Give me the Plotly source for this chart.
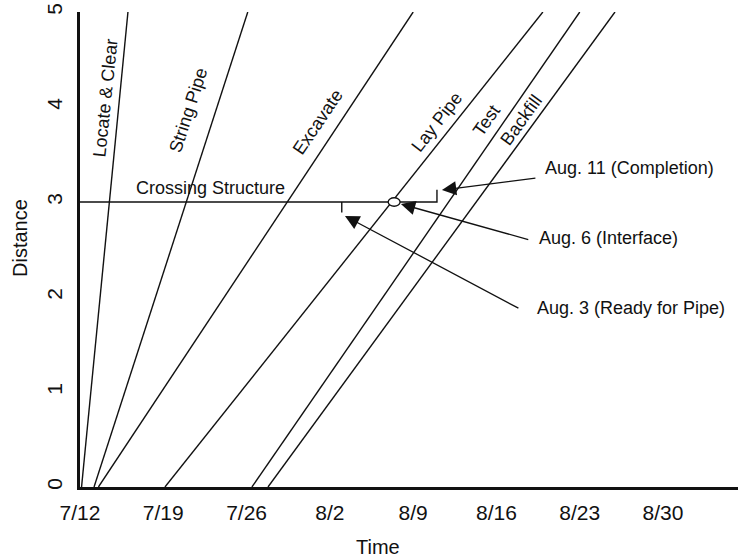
import plotly.graph_objects as go

# Time is measured in days after July 12
tick_days = [0, 7, 14, 21, 28, 35, 42, 49]
tick_labels = ["7/12", "7/19", "7/26", "8/2", "8/9", "8/16", "8/23", "8/30"]

# Each activity advances from distance 0 to distance 5
activities = ["Locate & Clear", "String Pipe", "Excavate", "Lay Pipe", "Test", "Backfill"]
start_days = [0.13, 1.18, 1.55, 7.14, 14.45, 15.8]
end_days = [4.03, 14.1, 28.0, 38.9, 42.0, 44.96]

# Label placement along each activity line (day, distance, angle)
label_days = [2.1, 9.1, 20.0, 30.0, 34.2, 37.1]
label_dist = [4.1, 3.97, 3.84, 3.84, 3.86, 3.86]
label_angle = [-84, -72, -56, -52, -55, -54]

# Crossing structure at distance 3
crossing_dist = 3.0
ready_day = 22.0        # Aug. 3
interface_day = 26.4    # Aug. 6 meeting with Lay Pipe
completion_day = 30.0   # Aug. 11

# Callouts: text, arrow tip (day, dist), arrow tail (day, dist), text anchor (day, dist)
callouts = [
    ("Aug. 11 (Completion)", (30.42, 3.126), (38.4, 3.253), (38.9, 3.358)),
    ("Aug. 6 (Interface)", (26.97, 2.979), (37.8, 2.60), (38.4, 2.621)),
    ("Aug. 3 (Ready for Pipe)", (22.27, 2.853), (36.97, 1.874), (38.24, 1.884)),
]

FONT = "Liberation Sans, Arial, Helvetica, sans-serif"
INK = "#111111"

fig = go.Figure()

for name, s, e in zip(activities, start_days, end_days):
    fig.add_trace(go.Scatter(
        x=[s, e], y=[0, 5], mode="lines", name=name,
        line=dict(color=INK, width=1.4), showlegend=False, hoverinfo="skip",
    ))

# Crossing structure line with the ready (down) and completion (up) steps
fig.add_trace(go.Scatter(
    x=[0, ready_day, ready_day, ready_day, completion_day, completion_day],
    y=[crossing_dist, crossing_dist, crossing_dist - 0.11, crossing_dist,
       crossing_dist, crossing_dist + 0.13],
    mode="lines", line=dict(color=INK, width=1.4),
    showlegend=False, hoverinfo="skip",
))

# Interface marker
fig.add_shape(type="circle", xref="x", yref="y",
              x0=interface_day - 0.5, x1=interface_day + 0.5,
              y0=crossing_dist - 0.045, y1=crossing_dist + 0.045,
              fillcolor="white", line=dict(color=INK, width=1.3))

for name, d, dist, ang in zip(activities, label_days, label_dist, label_angle):
    fig.add_annotation(x=d, y=dist, text=name, showarrow=False, textangle=ang,
                       xanchor="center", yanchor="middle",
                       font=dict(family=FONT, size=18, color=INK))

fig.add_annotation(x=10.97, y=3.15, text="Crossing Structure", showarrow=False,
                   xanchor="center", yanchor="middle",
                   font=dict(family=FONT, size=18, color=INK))

for text, tip, tail, pos in callouts:
    fig.add_annotation(x=tip[0], y=tip[1], ax=tail[0], ay=tail[1],
                       xref="x", yref="y", axref="x", ayref="y",
                       text="", showarrow=True, arrowhead=2, arrowsize=2.2,
                       arrowwidth=1.3, arrowcolor=INK)
    fig.add_annotation(x=pos[0], y=pos[1], text=text, showarrow=False,
                       xanchor="left", yanchor="middle",
                       font=dict(family=FONT, size=18, color=INK))

W, H = 738, 558
L, R, T, B = 80, 0, 12, 71


def px_to_paper(px, py):
    return (px - L) / (W - L - R), 1 - (py - T) / (H - T - B)


# Axis titles
tx, ty = px_to_paper(378, 547)
fig.add_annotation(x=tx, y=ty, xref="paper", yref="paper", text="Time",
                   xanchor="center", yanchor="middle",
                   showarrow=False, font=dict(family=FONT, size=20, color=INK))
dx, dy = px_to_paper(20, 238)
fig.add_annotation(x=dx, y=dy, xref="paper", yref="paper", text="Distance",
                   xanchor="center", yanchor="middle",
                   showarrow=False, textangle=-90,
                   font=dict(family=FONT, size=20, color=INK))

fig.update_layout(
    width=W, height=H,
    margin=dict(l=L, r=R, t=T, b=B),
    plot_bgcolor="white", paper_bgcolor="white",
    font=dict(family=FONT, color=INK),
)
fig.update_xaxes(
    range=[0, 55.3], tickvals=tick_days, ticktext=tick_labels,
    showgrid=False, zeroline=False, showline=True, linewidth=3, linecolor=INK,
    ticks="", tickfont=dict(size=21, family=FONT, color=INK),
    ticklabelstandoff=5,
)
fig.update_yaxes(
    range=[0, 5], tickvals=[0, 1, 2, 3, 4, 5],
    showgrid=False, zeroline=False, showline=True, linewidth=3, linecolor=INK,
    ticks="", tickangle=-90, tickfont=dict(size=21, family=FONT, color=INK),
    ticklabelstandoff=7,
)

fig.write_html("out.html")
